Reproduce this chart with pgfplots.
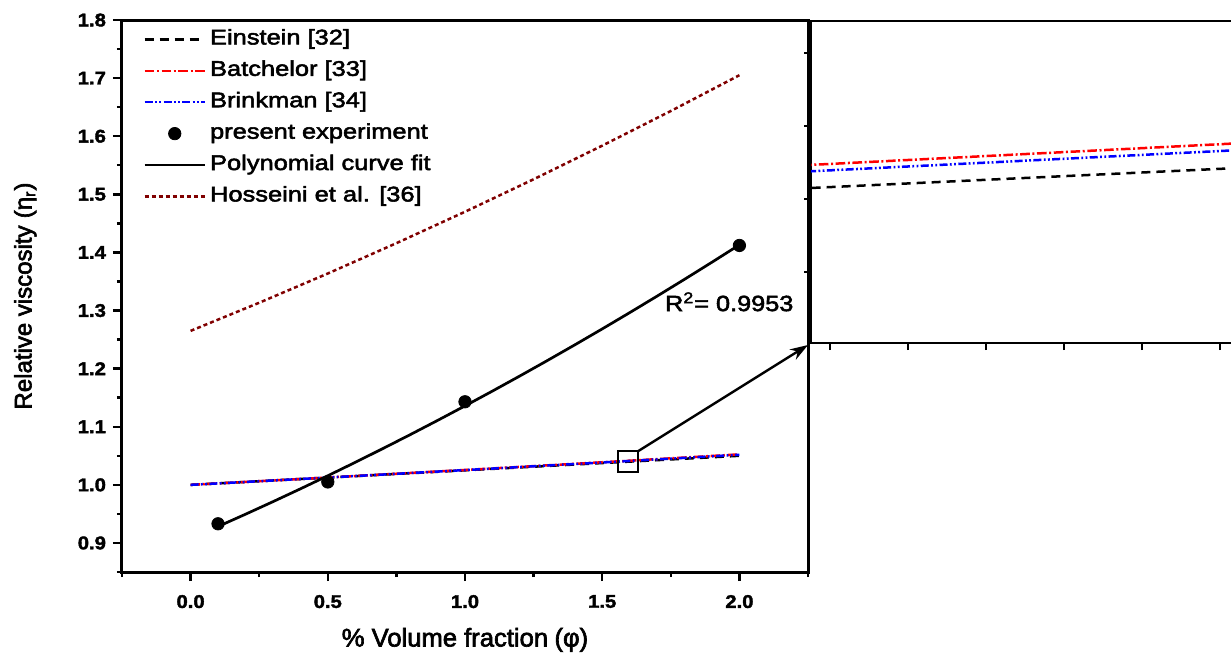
\documentclass[border=0pt]{standalone}
\usepackage{fontspec}
\setmainfont{Liberation Sans}
\newfontfamily\tickfont{Liberation Sans}[FakeStretch=1.1, FakeBold=2]
\newfontfamily\rfont{Liberation Sans}[FakeStretch=1.15, FakeBold=2.5]
\newfontfamily\legfont{Liberation Sans}[FakeStretch=1.2, FakeBold=2.5]
\newfontfamily\labfont{Liberation Sans}[FakeBold=2.5]
\usepackage{pgfplots}
\pgfplotsset{compat=1.18}
\usetikzlibrary{arrows.meta}
\definecolor{hosscol}{RGB}{128,0,0}
\definecolor{bred}{RGB}{255,0,0}
\definecolor{bblue}{RGB}{0,0,255}
\tikzset{
 einst/.style={black, line width=1.25pt, dash pattern=on 4.5pt off 3pt},
 batch/.style={bred, line width=1.25pt, dash pattern=on 4.8pt off 1.3pt on 1pt off 1.3pt},
 brink/.style={bblue, line width=1.25pt, dash pattern=on 4pt off 1.2pt on 0.9pt off 1.2pt on 0.9pt off 1.2pt},
 hossline/.style={hosscol, line width=1.25pt, dash pattern=on 2pt off 1.5pt},
}
\begin{document}
\begin{tikzpicture}
\begin{axis}[
 at={(0pt,0pt)}, anchor=south west,
 width=343pt, height=276pt, scale only axis,
 xmin=-0.25, xmax=2.25, ymin=0.85, ymax=1.8,
 xtick={0,0.5,1,1.5,2},
 ytick={0.9,1.0,1.1,1.2,1.3,1.4,1.5,1.6,1.7,1.8},
 minor xtick={-0.25,0.25,0.75,1.25,1.75,2.25},
 minor ytick={0.85,0.95,1.05,1.15,1.25,1.35,1.45,1.55,1.65,1.75},
 xtick pos=bottom, ytick pos=left,
 tick align=outside,
 major tick length=4.5pt, minor tick length=2.5pt,
 every tick/.style={black, line width=1.2pt},
 axis line style={line width=1.5pt},
 /pgf/number format/assume math mode=true,
 /pgf/number format/.cd, fixed, fixed zerofill, precision=1, /pgfplots/.cd,
 tick label style={font=\tickfont\fontsize{9.2}{10}\selectfont\bfseries},
 xticklabel style={yshift=-3.5pt},
 xlabel={\% Volume fraction\hspace{0.25em}(φ)},
 ylabel={Relative viscosity\hspace{0.3em}(η\textsubscript{r})},
 x label style={at={(axis description cs:0.5,-0.123)}, anchor=center, font=\labfont\fontsize{12.8}{14}\selectfont},
 y label style={at={(axis description cs:-0.141,0.5)}, anchor=center, font=\labfont\fontsize{12}{14}\selectfont},
 legend image code/.code={\draw[mark repeat=2,mark phase=2,#1] plot coordinates {(0pt,0pt) (15pt,0pt) (30pt,0pt)};},
 legend style={draw=none, fill=none, at={(0.0306,0.994)}, anchor=north west, inner sep=0pt,
   font=\legfont\fontsize{10.6}{12}\selectfont,
   nodes={inner xsep=2pt, inner ysep=2.75pt, text height=7.6pt, text depth=2.6pt}},
 legend cell align=left,
]
\addplot[einst] coordinates {(0,1.0) (0.5,1.0125) (1.0,1.025) (1.5,1.0375) (2.0,1.05)};
\addlegendentry{Einstein [32]}
\addplot[batch] coordinates {(0,1.0) (0.25,1.006289) (0.5,1.012655) (0.75,1.019099) (1.0,1.02562) (1.25,1.032219) (1.5,1.038895) (1.75,1.045649) (2.0,1.05248)};
\addlegendentry{Batchelor [33]}
\addplot[brink] coordinates {(0,1.0) (0.25,1.006277) (0.5,1.01261) (0.75,1.018999) (1.0,1.025444) (1.25,1.031946) (1.5,1.038507) (1.75,1.045126) (2.0,1.051804)};
\addlegendentry{Brinkman [34]}
\addplot[only marks, mark=*, mark size=3.1pt, black] coordinates {(0.1,0.933) (0.5,1.005) (1.0,1.143) (2.0,1.412)};
\addlegendentry{present experiment}
\addplot[black, line width=1.35pt] coordinates {(0.1,0.92832) (0.2,0.94942) (0.3,0.97101) (0.4,0.99309) (0.5,1.01566) (0.6,1.03873) (0.7,1.06228) (0.8,1.08632) (0.9,1.11086) (1.0,1.13588) (1.1,1.16140) (1.2,1.18740) (1.3,1.21390) (1.4,1.24089) (1.5,1.26836) (1.6,1.29633) (1.7,1.32479) (1.8,1.35374) (1.9,1.38318) (2.0,1.41311)};
\addlegendentry{Polynomial curve fit}
\addplot[hossline] coordinates {(0,1.265) (0.25,1.31344) (0.5,1.36375) (0.75,1.41594) (1.0,1.47) (1.25,1.52594) (1.5,1.58375) (1.75,1.64344) (2.0,1.705)};
\addlegendentry{Hosseini et al. [36]}
\draw[line width=0.8pt] (axis cs:1.558,1.022) rectangle (axis cs:1.631,1.058);
\coordinate (sq) at (axis cs:1.631,1.058);
\node[font=\rfont\fontsize{11}{13}\selectfont] at (axis cs:1.963,1.315) {R\textsuperscript{2}= 0.9953};
\end{axis}
\begin{axis}[
 name=inset,
 at={(344.5pt,114.5pt)}, anchor=south west,
 width=260pt, height=161pt, scale only axis,
 xmin=1.5976, xmax=1.6643, ymin=1.02932, ymax=1.05138,
 xtick={1.60,1.61,1.62,1.63,1.64,1.65,1.66},
 ytick={1.0342,1.0392,1.0442,1.0492},
 xticklabels={}, yticklabels={},
 xtick pos=bottom, ytick pos=left,
 tick align=outside, major tick length=3.5pt,
 every tick/.style={black, line width=1pt},
 axis line style={line width=1pt},
]
\addplot[einst] coordinates {(1.59,1.03975) (1.67,1.04175)};
\addplot[batch] coordinates {(1.59,1.041317) (1.61,1.041857) (1.63,1.042397) (1.65,1.042938) (1.67,1.043479)};
\addplot[brink] coordinates {(1.59,1.040883) (1.63,1.041941) (1.67,1.043001)};
\end{axis}
\draw[line width=1.2pt, -{Stealth[length=9pt,width=6pt]}] (sq) -- ([xshift=-1.5pt,yshift=-1pt]inset.south west);
\pgfresetboundingbox
\useasboundingbox (-61pt,-44pt) rectangle (554.5pt,286pt);
\end{tikzpicture}
\end{document}
